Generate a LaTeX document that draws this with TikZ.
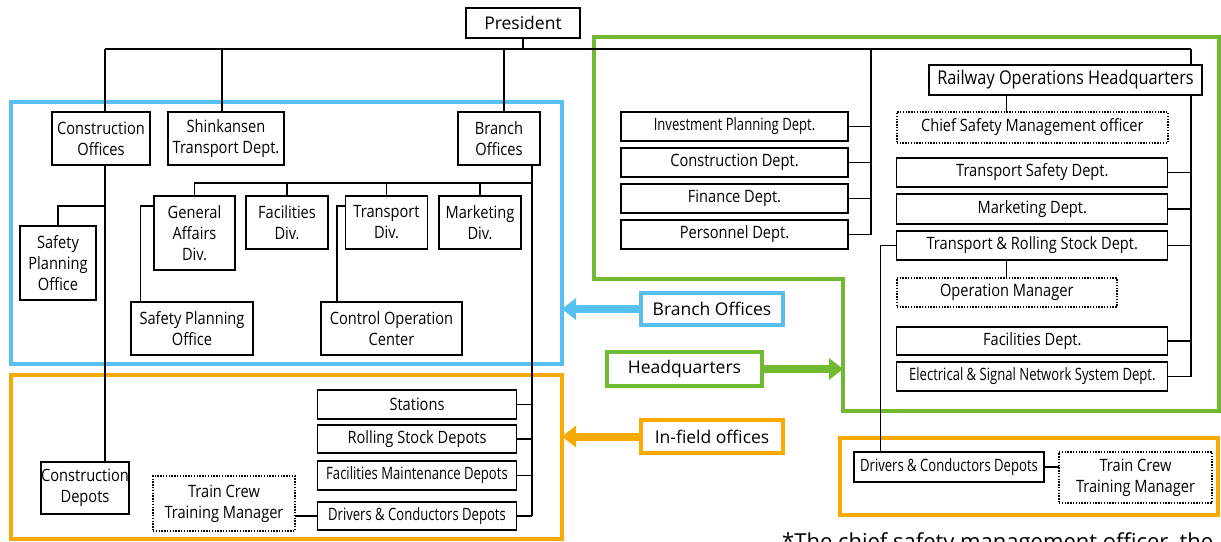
\documentclass[tikz,border=0pt]{standalone}
\usepackage{fontspec}
\setmainfont{Open Sans}
\newfontfamily\deptfont{Open Sans}[FakeStretch=0.86]
\newfontfamily\narrowfont{Open Sans}[FakeStretch=0.77]
\usepackage{xcolor}
\usetikzlibrary{arrows.meta}

\definecolor{hqgreen}{RGB}{112,186,50}
\definecolor{brblue}{RGB}{88,192,240}
\definecolor{fieldorange}{RGB}{247,170,0}

\begin{document}
\begin{tikzpicture}[x=1pt,y=-1pt,
        dept/.style={draw,line width=1.2pt,fill=white,inner sep=0pt,outer sep=0pt,
            align=center,font=\deptfont\fontsize{17}{21}\selectfont},
        tight/.style={dept,font=\narrowfont\fontsize{17}{21}\selectfont},
        post/.style={dept,line width=1.7pt,dash pattern=on 1.4pt off 1.4pt},
        tag/.style={draw,line width=3.3pt,fill=white,inner sep=0pt,outer sep=0pt,
            font=\fontsize{17.5}{21}\selectfont},
        frame/.style={line width=3.8pt,inner sep=0pt,outer sep=0pt},
        link/.style={line width=1.2pt},
        pointer/.style={line width=8pt,-{Triangle[length=14pt,width=22pt,line width=0pt]}}]
        \useasboundingbox (0,0) rectangle (1221,541);

        \node[frame,draw=brblue,minimum width=551,minimum height=262] (bluefr) at (286.5,233) {};
        \node[frame,draw=fieldorange,minimum width=551,minimum height=164] (fieldL) at (286.5,457) {};
        \node[frame,draw=fieldorange,minimum width=378,minimum height=77] (fieldR) at (1029,476.5) {};
        \coordinate (gdent) at (843,279);
        \draw[frame,hqgreen] (594,37) -- (1219,37) -- (1219,411) -- (843,411) -- (gdent) -- (594,279) -- cycle;

        \node[dept,font=\fontsize{17.5}{21}\selectfont,minimum width=114,minimum height=30] (president) at (523,23) {President};

        \node[dept,minimum width=98,minimum height=53] (conoff) at (101,138.5) {Construction\\Offices};
        \node[dept,minimum width=116,minimum height=53] (shinkansen) at (226,138.5) {Shinkansen\\Transport Dept.};
        \node[dept,minimum width=82,minimum height=53] (branch) at (499,138.5) {Branch\\Offices};

        \node[dept,minimum width=81,minimum height=74] (genaff) at (194.5,233) {General\\Affairs\\Div.};
        \node[dept,minimum width=82,minimum height=53] (facdiv) at (287,222.5) {Facilities\\Div.};
        \node[dept,minimum width=82,minimum height=53] (trndiv) at (386.5,222.5) {Transport\\Div.};
        \node[dept,minimum width=82,minimum height=53] (mktdiv) at (480,222.5) {Marketing\\Div.};
        \node[dept,minimum width=76,minimum height=74] (spo1) at (58,263) {Safety\\Planning\\Office};
        \node[dept,minimum width=122,minimum height=53] (spo2) at (192,328.5) {Safety Planning\\Office};
        \node[dept,minimum width=141,minimum height=53] (coc) at (391.5,328.5) {Control Operation\\Center};

        \node[dept,minimum width=199,minimum height=29] (stations) at (417,404.5) {Stations};
        \node[dept,minimum width=199,minimum height=28] (rsdep) at (417,439) {Rolling Stock Depots};
        \node[tight,minimum width=199,minimum height=29] (fmdep) at (417,475.5) {Facilities Maintenance Depots};
        \node[tight,minimum width=199,minimum height=28] (dcdep) at (417,516) {Drivers \& Conductors Depots};
        \node[dept,minimum width=88,minimum height=52] (condep) at (85,488) {Construction\\Depots};
        \node[post,minimum width=142,minimum height=55] (tcm1) at (224,503.5) {Train Crew\\Training Manager};

        \node[dept,font=\deptfont\fontsize{19}{22}\selectfont,minimum width=273,minimum height=30] (rohq) at (1065.5,80) {Railway Operations Headquarters};
        \node[post,minimum width=271,minimum height=31] (csmo) at (1032.3,127.5) {Chief Safety Management officer};
        \node[tight,minimum width=227,minimum height=29] (invest) at (734.5,126.5) {Investment Planning Dept.};
        \node[dept,minimum width=227,minimum height=29] (condept) at (734.5,162.5) {Construction Dept.};
        \node[dept,minimum width=227,minimum height=29] (finance) at (734.5,198.5) {Finance Dept.};
        \node[dept,minimum width=227,minimum height=29] (personnel) at (734.5,234.5) {Personnel Dept.};
        \node[dept,minimum width=271,minimum height=29] (tsafety) at (1032.3,172.5) {Transport Safety Dept.};
        \node[dept,minimum width=271,minimum height=30] (mktdept) at (1032.3,209) {Marketing Dept.};
        \node[dept,minimum width=271,minimum height=29] (trsdept) at (1032.3,245.5) {Transport \& Rolling Stock Dept.};
        \node[post,minimum width=220,minimum height=29] (opmgr) at (1006.8,292.5) {Operation Manager};
        \node[dept,minimum width=271,minimum height=28] (facdept) at (1032.3,341) {Facilities Dept.};
        \node[tight,minimum width=271,minimum height=29] (esdept) at (1032.3,376.5) {Electrical \& Signal Network System Dept.};
        \node[tight,minimum width=190,minimum height=30] (dcdep2) at (949,467) {Drivers \& Conductors Depots};
        \node[post,minimum width=153,minimum height=51] (tcm2) at (1135.5,477.5) {Train Crew\\Training Manager};

        \node[tag,draw=brblue,minimum width=142,minimum height=32] (lbranch) at (712,309) {Branch Offices};
        \node[tag,draw=hqgreen,minimum width=155,minimum height=34] (lhq) at (684.5,369) {Headquarters};
        \node[tag,draw=fieldorange,minimum width=142,minimum height=33] (lfield) at (712,436.5) {In-field offices};

        \draw[pointer,brblue] (lbranch.west) -- (lbranch.west -| bluefr.east);
        \draw[pointer,hqgreen] (lhq.east) -- (lhq.east -| gdent);
        \draw[pointer,fieldorange] (lfield.west) -- (lfield.west -| fieldL.east);

        \coordinate (busL) at (105,49);
        \coordinate (busR) at (1191,49);
        \coordinate (lv) at (871,49);
        \coordinate (sv) at (222,49);
        \coordinate (brv) at (504,49);
        \coordinate (bv) at (532,183);
        \coordinate (tap) at (0,206);
        \coordinate (spoleg) at (140.5,0);
        \coordinate (cocleg) at (337,0);
        \coordinate (dcleg) at (880.5,0);

        \draw[link] (president.south) -- (president.south |- busL);
        \draw[link] (busL) -- (busR);
        \draw[link] (busL) -- (busL |- conoff.north);
        \draw[link] (busL |- conoff.south) -- (busL |- condep.north);
        \draw[link] (sv) -- (sv |- shinkansen.north);
        \draw[link] (brv) -- (brv |- branch.north);

        \draw[link] (bv |- branch.south) -- (bv |- dcdep.east);
        \draw[link] (genaff.north) |- (bv);
        \foreach \d in {facdiv,trndiv,mktdiv}
            \draw[link] (\d.north) -- (\d.north |- bv);
        \draw[link] (busL |- tap) -| (spo1.north);
        \draw[link] (genaff.west |- tap) -| (spoleg |- spo2.north);
        \draw[link] (trndiv.west |- tap) -| (cocleg |- coc.north);
        \foreach \d in {stations,rsdep,fmdep,dcdep}
            \draw[link] (\d.east) -- (\d.east -| bv);
        \draw[link] (tcm1.east |- dcdep.west) -- (dcdep.west);

        \draw[link] (lv) -- (lv |- personnel.east);
        \foreach \d in {invest,condept,finance,personnel}
            \draw[link] (\d.east) -- (\d.east -| lv);
        \draw[link] (busR) -- (busR |- rohq.north);
        \draw[link] (busR |- rohq.south) -- (busR |- esdept.east);
        \foreach \d in {tsafety,mktdept,trsdept,facdept,esdept}
            \draw[link] (\d.east) -- (\d.east -| busR);
        \draw[link] (opmgr.north |- rohq.south) -- (opmgr.north |- csmo.north);
        \draw[link] (opmgr.north) -- (opmgr.north |- trsdept.south);
        \draw[link] (trsdept.west) -| (dcleg |- dcdep2.north);
        \draw[link] (dcdep2.east) -- (dcdep2.east -| tcm2.west);

        \begin{scope}
            \clip (0,0) rectangle (1221,541);
            \node[anchor=base west,inner sep=0pt,font=\fontsize{22}{26}\selectfont] (note) at (782,549)
                {*The chief safety management officer, the};
        \end{scope}
\end{tikzpicture}
\end{document}
